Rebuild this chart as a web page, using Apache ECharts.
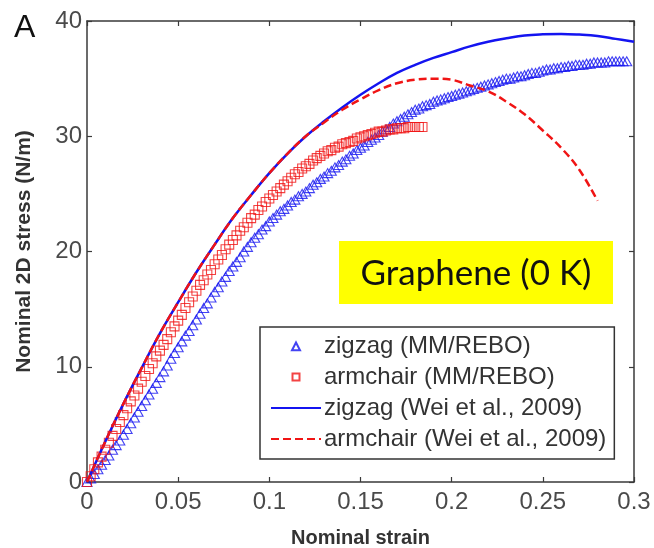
<!DOCTYPE html>
<html>
<head>
<meta charset="utf-8">
<script src="https://cdn.jsdelivr.net/npm/echarts@6/dist/echarts.min.js"></script>
<style>
  html, body { margin: 0; padding: 0; background: #fff; }
  #chart { width: 654px; height: 548px; }
</style>
</head>
<body>
<div id="chart"></div>
<script>
// strain spacing of the samples
const mmStep = 0.002;
const weiStep = 0.01;

// nominal 2D stress (N/m), MM/REBO simulations
const zigzagMM = [
  0, 0.3, 0.7, 1.1, 1.5, 1.9, 2.3, 2.8, 3.2, 3.6,
  4.1, 4.6, 5.1, 5.6, 6.1, 6.6, 7.1, 7.6, 8.1, 8.6,
  9.1, 9.6, 10.1, 10.7, 11.2, 11.7, 12.2, 12.7, 13.1, 13.6,
  14.1, 14.6, 15.1, 15.5, 16.0, 16.5, 16.9, 17.4, 17.8, 18.3,
  18.7, 19.1, 19.5, 20.0, 20.4, 20.8, 21.2, 21.5, 21.9, 22.2,
  22.6, 22.9, 23.2, 23.5, 23.7, 24.0, 24.3, 24.5, 24.8, 25.0,
  25.2, 25.5, 25.8, 26.0, 26.3, 26.5, 26.8, 27.0, 27.3, 27.5,
  27.8, 28.0, 28.3, 28.5, 28.8, 29.0, 29.2, 29.5, 29.7, 29.9,
  30.1, 30.4, 30.6, 30.8, 31.1, 31.3, 31.5, 31.7, 31.9, 32.1,
  32.3, 32.4, 32.6, 32.7, 32.8, 33.0, 33.1, 33.2, 33.3, 33.4,
  33.5, 33.6, 33.7, 33.8, 33.9, 34.0, 34.1, 34.2, 34.3, 34.4,
  34.5, 34.6, 34.7, 34.8, 34.9, 35.0, 35.0, 35.1, 35.2, 35.2,
  35.3, 35.4, 35.5, 35.5, 35.6, 35.7, 35.8, 35.8, 35.9, 35.9,
  36.0, 36.0, 36.1, 36.1, 36.2, 36.2, 36.2, 36.3, 36.3, 36.4,
  36.4, 36.4, 36.4, 36.5, 36.5, 36.5, 36.5, 36.5, 36.5
];

const armchairMM = [
  0, 0.5, 1.1, 1.7, 2.2, 2.8, 3.4, 4.0, 4.6, 5.2,
  5.8, 6.4, 7.0, 7.5, 8.1, 8.7, 9.2, 9.8, 10.3, 10.9,
  11.4, 11.9, 12.4, 13.0, 13.5, 14.0, 14.5, 15.1, 15.6, 16.1,
  16.6, 17.1, 17.5, 18.0, 18.4, 18.9, 19.3, 19.7, 20.2, 20.6,
  21.0, 21.4, 21.8, 22.1, 22.5, 22.9, 23.2, 23.6, 23.9, 24.3,
  24.6, 24.9, 25.2, 25.5, 25.8, 26.1, 26.4, 26.7, 26.9, 27.2,
  27.4, 27.6, 27.9, 28.1, 28.3, 28.5, 28.7, 28.8, 29.0, 29.1,
  29.3, 29.4, 29.5, 29.6, 29.8, 29.9, 30.0, 30.1, 30.2, 30.3,
  30.4, 30.4, 30.5, 30.6, 30.6, 30.7, 30.7, 30.7, 30.8, 30.8,
  30.8, 30.8, 30.8
];

// Wei et al., 2009
const zigzagWei = [
  0, 3.5, 6.8, 9.9, 12.9, 15.6, 18.2, 20.6, 22.9, 24.9,
  26.8, 28.5, 30.0, 31.3, 32.5, 33.6, 34.6, 35.5, 36.2, 36.8,
  37.3, 37.8, 38.2, 38.5, 38.75, 38.85, 38.88, 38.82, 38.7, 38.45,
  38.2
];

const armchairWei = [
  0, 3.5, 6.8, 9.9, 12.9, 15.6, 18.2, 20.6, 22.9, 24.9,
  26.8, 28.5, 30.0, 31.2, 32.3, 33.2, 34.0, 34.6, 34.9, 35.0,
  34.9, 34.4, 33.9, 33.0, 31.9, 30.5, 29.0, 27.1, 24.4
];

const xTickLabels = ['0', '0.05', '0.1', '0.15', '0.2', '0.25', '0.3'];
const yTickLabels = ['0', '10', '20', '30', '40'];

const seriesNames = [
  'zigzag (MM/REBO)',
  'armchair (MM/REBO)',
  'zigzag (Wei et al., 2009)',
  'armchair (Wei et al., 2009)'
];

const BLUE = '#1414f0';
const RED = '#f01414';
const AXIS = '#3a3a3a';
const FONT = '"Liberation Sans", Arial, sans-serif';

// legend marker icons drawn inside a 50x10 box so they keep their shape
const triIcon = 'path://M0,0M50,10M21,9.2L25,1.5L29,9.2Z';
const sqIcon = 'path://M0,0M50,10M21.5,1.5L28.5,1.5L28.5,8.5L21.5,8.5Z';

function toPairs(arr, step) {
  return arr.map((v, i) => [+(i * step).toFixed(4), v]);
}

const chart = echarts.init(document.getElementById('chart'), null, { renderer: 'canvas' });

const axisLine = { show: true, onZero: false, lineStyle: { color: AXIS, width: 1.5 } };
const axisTick = { inside: true, length: 5, lineStyle: { color: AXIS, width: 1.2 } };

chart.setOption({
  animation: false,
  backgroundColor: '#fff',
  grid: { left: 87, top: 21, right: 20, bottom: 66, containLabel: false, outerBoundsMode: 'none' },
  xAxis: [
    {
      type: 'value', min: 0, max: 0.3, interval: 0.05, position: 'bottom',
      axisLine, axisTick, splitLine: { show: false },
      axisLabel: {
        margin: 8, color: '#4a4a4a', fontSize: 24, fontFamily: FONT,
        formatter: v => xTickLabels[Math.round(v / 0.05)]
      },
      name: 'Nominal strain',
      nameLocation: 'middle',
      nameGap: 46,
      nameTextStyle: { color: '#333', fontSize: 20, fontWeight: 'bold', fontFamily: FONT }
    },
    {
      type: 'value', min: 0, max: 0.3, interval: 0.05, position: 'top',
      axisLine, axisTick, splitLine: { show: false }, axisLabel: { show: false }
    }
  ],
  yAxis: [
    {
      type: 'value', min: 0, max: 40, interval: 10, position: 'left',
      axisLine, axisTick, splitLine: { show: false },
      axisLabel: {
        margin: 5, color: '#4a4a4a', fontSize: 24, fontFamily: FONT,
        formatter: v => yTickLabels[Math.round(v / 10)]
      },
      name: 'Nominal 2D stress (N/m)',
      nameLocation: 'middle',
      nameGap: 52,
      nameTextStyle: { color: '#333', fontSize: 21, fontWeight: 'bold', fontFamily: FONT }
    },
    {
      type: 'value', min: 0, max: 40, interval: 10, position: 'right',
      axisLine, axisTick, splitLine: { show: false }, axisLabel: { show: false }
    }
  ],
  legend: {
    orient: 'vertical',
    left: 260,
    top: 327,
    padding: [7, 8, 8, 10],
    itemGap: 7,
    itemWidth: 50,
    itemHeight: 10,
    borderColor: '#333',
    borderWidth: 1.5,
    backgroundColor: '#fff',
    textStyle: { color: '#333', fontSize: 24, fontFamily: FONT, lineHeight: 24, padding: [0, 0, 0, -2] },
    data: [
      { name: seriesNames[0], icon: triIcon },
      { name: seriesNames[1], icon: sqIcon },
      { name: seriesNames[2] },
      { name: seriesNames[3] }
    ]
  },
  series: [
    {
      name: seriesNames[0],
      type: 'scatter',
      symbol: 'triangle',
      symbolSize: [10, 9],
      itemStyle: { color: 'rgba(0,0,0,0)', borderColor: BLUE, borderWidth: 1.1 },
      data: toPairs(zigzagMM, mmStep),
      z: 2
    },
    {
      name: seriesNames[1],
      type: 'scatter',
      symbol: 'rect',
      symbolSize: 9,
      itemStyle: { color: 'rgba(0,0,0,0)', borderColor: RED, borderWidth: 1.1 },
      data: toPairs(armchairMM, mmStep),
      z: 3
    },
    {
      name: seriesNames[2],
      type: 'line',
      symbol: 'none',
      smooth: 0.4,
      lineStyle: { color: BLUE, width: 2.5 },
      itemStyle: { color: 'rgba(0,0,0,0)' },
      data: toPairs(zigzagWei, weiStep),
      z: 4
    },
    {
      name: seriesNames[3],
      type: 'line',
      symbol: 'none',
      smooth: 0.4,
      lineStyle: { color: RED, width: 2.5, type: [8, 4] },
      itemStyle: { color: 'rgba(0,0,0,0)' },
      data: toPairs(armchairWei, weiStep),
      z: 5
    }
  ],
  graphic: [
    {
      type: 'text', left: 14, top: 12, z: 10,
      style: { text: 'A', fill: '#111', font: '32px "Liberation Sans", Arial, sans-serif' }
    },
    {
      type: 'group', left: 339, top: 241, z: 10,
      children: [
        { type: 'rect', shape: { x: 0, y: 0, width: 274, height: 63 }, style: { fill: '#ffff00' } },
        {
          type: 'text', x: 137, y: 33,
          style: {
            text: 'Graphene (0 K)', fill: '#111',
            font: '35px Lato, "Open Sans", sans-serif',
            align: 'center', verticalAlign: 'middle'
          }
        }
      ]
    }
  ]
});
</script>
</body>
</html>
